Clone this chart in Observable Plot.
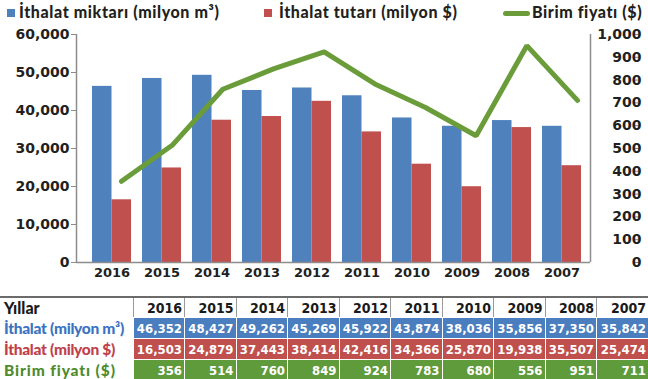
<!DOCTYPE html>
<html>
<head>
<meta charset="utf-8">
<script src="https://cdn.jsdelivr.net/npm/d3@7"></script>
<script src="https://cdn.jsdelivr.net/npm/@observablehq/plot@0.6"></script>
<style>
  html, body { margin: 0; padding: 0; background: #fff; }
  #wrap { position: relative; width: 648px; height: 379px; overflow: hidden; font-family: Lato, "Open Sans", sans-serif; }
  .leg { position: absolute; top: 2px; font-weight: 900; font-size: 16px; letter-spacing: 0.6px; color: #231f20; white-space: nowrap; line-height: 20px; }
  .sw { position: absolute; }
  #chart { position: absolute; left: 0; top: 22px; }
  table { position: absolute; left: 0; top: 296px; width: 648px; border-collapse: collapse; table-layout: fixed; }
  td { padding: 0 2px 0 0; height: 20px; text-align: right; font-family: "DejaVu Sans Condensed", "DejaVu Sans"; font-weight: bold; font-size: 13px; color: #fff; border-left: 1px solid #fff; border-bottom: 1px solid #fff; white-space: nowrap; overflow: hidden; }
  tr.hdr td { height: 18px; color: #1a1a1a; border-top: 2px solid #6b6b6b; border-left: 1px solid #9a9a9a; border-bottom: 1px solid #fff; font-size: 14px; }
  td.lab { text-align: left; padding-left: 4px; font-family: Lato, sans-serif; font-weight: 900; font-size: 15.5px; border-left: none; background: #fff; }
  tr.hdr td.lab { font-size: 16px; border-left: none; }
</style>
</head>
<body>
<div id="wrap">
  <div class="sw" style="left:7px;top:9px;width:8px;height:8px;background:#4f81bd"></div>
  <div class="leg" style="left:19px">İthalat miktarı (milyon m³)</div>
  <div class="sw" style="left:264px;top:9px;width:8px;height:8px;background:#c0504d"></div>
  <div class="leg" style="left:279px">İthalat tutarı (milyon $)</div>
  <div class="sw" style="left:503px;top:11px;width:27px;height:5px;border-radius:3px;background:#6a9c3a"></div>
  <div class="leg" style="left:532px">Birim fiyatı ($)</div>
  <div id="chart"></div>
  <table id="tbl"></table>
</div>
<script>
// ---- data ----
const years = ["2016","2015","2014","2013","2012","2011","2010","2009","2008","2007"];
const importVolume = [46352, 48427, 49262, 45269, 45922, 43874, 38036, 35856, 37350, 35842]; // milyon m³
const importValue  = [16503, 24879, 37443, 38414, 42416, 34366, 25870, 19938, 35507, 25474]; // milyon $
const unitPrice    = [356, 514, 760, 849, 924, 783, 680, 556, 951, 711];                     // $
const leftTicks  = [0, 10000, 20000, 30000, 40000, 50000, 60000];
const rightTicks = [0, 100, 200, 300, 400, 500, 600, 700, 800, 900, 1000];
const rowLabels = ["Yıllar", "İthalat (milyon m³)", "İthalat (milyon $)", "Birim fiyatı ($)"];

// ---- styling / layout ----
const BLUE = "#4f81bd", RED = "#c0504d", GREEN = "#6a9c3a";
const AXIS = "#8c8c8c";
const X0 = -0.71, X1 = 9.57;   // x domain (category index units)
const BAR = 0.39;               // bar width in category units
const LEFT_MAX = 60000, RIGHT_MAX = 1000, K = LEFT_MAX / RIGHT_MAX;

const data = years.map((year, i) => ({year, i, vol: importVolume[i], val: importValue[i], price: unitPrice[i]}));
const fmt = d3.format(",");

const chart = Plot.plot({
  width: 648, height: 270,
  marginTop: 12, marginBottom: 30, marginLeft: 76, marginRight: 58,
  style: {fontFamily: "DejaVu Sans", fontWeight: "bold", color: "#231f20", background: "transparent", overflow: "visible"},
  x: {type: "linear", domain: [X0, X1], axis: null},
  y: {domain: [0, LEFT_MAX], axis: null},
  marks: [
    Plot.rect(data, {x1: d => d.i - BAR, x2: d => d.i, y1: 0, y2: "vol", fill: BLUE}),
    Plot.rect(data, {x1: d => d.i, x2: d => d.i + BAR, y1: 0, y2: "val", fill: RED}),
    Plot.line(data, {x: d => d.i * 1.0133 + 0.19, y: d => d.price * K, stroke: GREEN, strokeWidth: 5, strokeLinejoin: "miter"}),
    Plot.ruleY([0], {stroke: AXIS, strokeWidth: 1.5}),
    Plot.ruleX([X0, X1], {y1: 0, y2: LEFT_MAX, stroke: AXIS, strokeWidth: 1.5}),
    Plot.axisY({anchor: "left", ticks: leftTicks, tickFormat: fmt, tickSize: 5, tickPadding: 2, fontSize: 14, stroke: AXIS, fill: "#231f20"}),
    Plot.axisY({anchor: "right", ticks: rightTicks.map(v => v * K), tickFormat: v => fmt(v / K), tickSize: 5, tickPadding: 3, textAnchor: "end", dx: 43, fontSize: 14, stroke: AXIS, fill: "#231f20"}),
    Plot.axisX({ticks: data.map(d => d.i), tickFormat: i => years[i], tickSize: 0, tickPadding: 5, fontSize: 13, fill: "#231f20"})
  ]
});
document.getElementById("chart").appendChild(chart);

// ---- table ----
const tbl = document.getElementById("tbl");
const colg = document.createElement("colgroup");
colg.innerHTML = `<col style="width:133px">` + years.map(() => `<col style="width:51.5px">`).join("");
tbl.appendChild(colg);
const rows = [
  {cls: "hdr", label: rowLabels[0], vals: years, bg: "#fff", lc: "#1a1a1a"},
  {cls: "", label: rowLabels[1], vals: importVolume.map(fmt), bg: "#4a7ebe", lc: "#3b73c2"},
  {cls: "", label: rowLabels[2], vals: importValue.map(fmt), bg: "#c0504e", lc: "#c0404b"},
  {cls: "", label: rowLabels[3], vals: unitPrice.map(String), bg: "#5f9a3b", lc: "#4e8b2c"}
];
rows.forEach((r, k) => {
  const tr = document.createElement("tr");
  if (r.cls) tr.className = r.cls;
  const lab = document.createElement("td");
  lab.className = "lab";
  lab.textContent = r.label;
  lab.style.color = r.lc;
  if (k === 3) lab.style.letterSpacing = "0.9px";
  if (k === 1 || k === 2) lab.style.letterSpacing = "-0.3px";
  tr.appendChild(lab);
  r.vals.forEach(v => {
    const td = document.createElement("td");
    td.textContent = v;
    td.style.background = r.bg;
    tr.appendChild(td);
  });
  tbl.appendChild(tr);
});
</script>
</body>
</html>
